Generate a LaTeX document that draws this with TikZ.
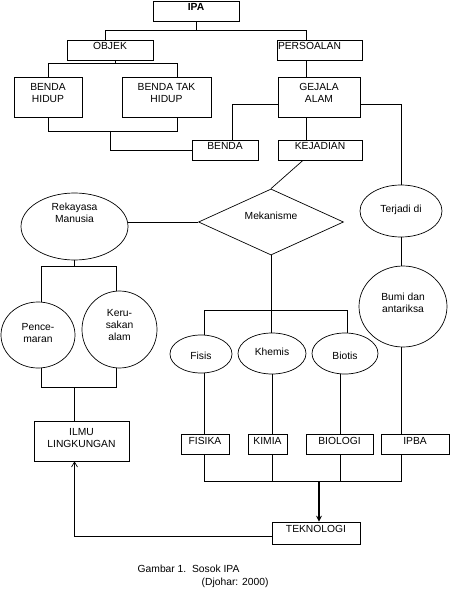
\documentclass[tikz,border=0pt]{standalone}
\usepackage{fontspec}
\setmainfont{Liberation Sans}
\usepackage{tikz}
\usetikzlibrary{shapes.geometric}
\usetikzlibrary{arrows.meta}
\tikzset{
    mybox/.style = {rectangle, draw=black, align=center, inner sep=0pt, text height=10pt, text depth=10pt, minimum height=20pt},
    mybox2/.style = {rectangle, draw=black, align=center, inner sep=0pt, text height=26pt, text depth=14pt, minimum height=40pt},
    myell/.style = {ellipse, draw=black, align=center, inner sep=0pt},
    mydia/.style = {diamond, draw=black, align=center, inner sep=0pt},
}
\begin{document}
\begin{tikzpicture}[
    x=1pt,
    y=-1pt,
    line width=0.7pt,
    font=\fontsize{10.3}{12}\selectfont
  ]
  \useasboundingbox (0,0) rectangle (450,612);
  \node[mybox, minimum width=86pt, font=\fontsize{10.3}{12}\selectfont\bfseries] (ipa) at (196,11) {IPA};
  \node[mybox, minimum width=86pt] (obj) at (110,50) {OBJEK};
  \node[mybox, minimum width=85pt, text width=83pt, align=left, inner xsep=1pt] (per) at (319.5,50) {PERSOALAN};
  \node[mybox2, minimum width=68pt] (bh) at (48,97) {BENDA\\HIDUP};
  \node[mybox2, minimum width=89pt] (bth) at (166.5,97) {BENDA TAK\\HIDUP};
  \node[mybox2, minimum width=82pt] (gej) at (319,97) {GEJALA\\ALAM};
  \node[mybox, minimum width=66pt] (bnd) at (225,150) {BENDA};
  \node[mybox, minimum width=84pt] (kej) at (320,150) {KEJADIAN};
  \node[mydia, minimum width=145pt, minimum height=58pt, text height=4pt, text depth=9.4pt] (mek) at (271,222) {Mekanisme};
  \node[myell, minimum width=107pt, minimum height=67pt, text height=14pt, text depth=21.6pt] (rek) at (74.5,226.5) {Rekayasa\\Manusia};
  \node[myell, minimum width=82pt, minimum height=52pt, text height=6pt, text depth=4pt] (ter) at (401,211) {Terjadi di};
  \node[myell, minimum width=88pt, minimum height=81pt, text height=16pt, text depth=5pt] (bumi) at (403,306.5) {Bumi dan\\antariksa};
  \node[myell, minimum width=74pt, minimum height=66pt, text height=18pt, text depth=4pt] (pen) at (38,335) {Pence-\\maran};
  \node[myell, minimum width=75pt, minimum height=77pt, text height=26pt, text depth=5pt] (rus) at (119.5,329.5) {Keru-\\sakan\\alam};
  \node[myell, minimum width=62pt, minimum height=38pt, text height=12pt, text depth=2pt] (fis) at (201,354) {Fisis};
  \node[myell, minimum width=68pt, minimum height=41pt, text height=8pt, text depth=4pt] (khe) at (272,353.5) {Khemis};
  \node[myell, minimum width=66pt, minimum height=41pt, text height=13pt, text depth=1pt] (bio) at (345,353.5) {Biotis};
  \node[mybox2, minimum width=95pt] (ilmu) at (81.5,441) {ILMU\\LINGKUNGAN};
  \node[mybox, minimum width=48pt] (fisika) at (205,444) {FISIKA};
  \node[mybox, minimum width=39pt] (kimia) at (267.5,444) {KIMIA};
  \node[mybox, minimum width=67pt] (biologi) at (339.5,444) {BIOLOGI};
  \node[mybox, minimum width=68pt] (ipba) at (415,444) {IPBA};
  \node[mybox, minimum width=88pt, minimum height=22pt, text depth=12pt] (tek) at (316,533) {TEKNOLOGI};
  \node[anchor=base west] (cap1) at (134,572) {Gambar 1.\ \ Sosok IPA};
  \node[anchor=base west] (cap2) at (198,585) {(Djohar: 2000)};

  \draw (ipa.south) -- ++(0,9) -| ([xshift=-5pt]obj.north);
  \draw (ipa.south) ++(0,9) -| ([xshift=-13.5pt]per.north);
  \draw ([xshift=5pt]obj.south) -- ++(0,3) coordinate (o1);
  \draw (bh.north) |- (o1) -| ([xshift=10.5pt]bth.north);
  \draw (bh.south) -- ++(0,14) -| ([xshift=10.5pt]bth.south);
  \coordinate (b2) at (110,131);
  \draw (b2) |- (bnd.west);
  \draw ([xshift=-13.5pt]per.south) -- ([xshift=-13.5pt]per.south |- gej.north);
  \draw ([yshift=-7pt]gej.west) -| ([xshift=7pt]bnd.north);
  \draw ([yshift=-7pt]gej.east) -| (ter.north);
  \draw ([xshift=-13pt]gej.south) -- ([xshift=-13pt]gej.south |- kej.north);
  \draw ([xshift=-17pt]kej.south) -- (mek.north);
  \draw (mek.west) -- (mek.west -| rek.east);
  \draw (ter.south) -- (ter.south |- bumi.north);
  \draw (rek.south) -- ++(0,6) coordinate (r1);
  \draw ([xshift=3pt]pen.north) |- (r1) -| ([xshift=-3.5pt]rus.north);
  \draw ([xshift=3pt]pen.south) -- ++(0,19) coordinate (p1) -| ([xshift=-3.5pt]rus.south);
  \draw (rek.south |- p1) -- (rek.south |- ilmu.north);
  \draw (mek.south) -- ++(0,55) coordinate (m1);
  \draw ([xshift=3pt]fis.north) |- (m1) -| ([xshift=2pt]bio.north);
  \draw (m1) -- (m1 |- khe.north);
  \draw ([xshift=3pt]fis.south) -- ([xshift=3pt]fis.south |- fisika.north);
  \draw (khe.south) -- (khe.south |- kimia.north);
  \draw ([xshift=-5pt]bio.south) -- ([xshift=-5pt]bio.south |- biologi.north);
  \draw (ter.south |- bumi.south) -- (ter.south |- ipba.north);
  \draw ([xshift=3pt]fis.south |- fisika.south) -- ++(0,27) coordinate (k1) -| (ter.south |- ipba.south);
  \draw (khe.south |- kimia.south) -- (khe.south |- k1);
  \draw ([xshift=-5pt]bio.south |- biologi.south) -- ([xshift=-5pt]bio.south |- k1);
  \draw[line width=1.8pt, -{Stealth[length=6pt,width=6pt]}] ([xshift=3pt]tek.north |- k1) -- ([xshift=3pt]tek.north);
  \draw[-{Straight Barb[length=5pt,width=6pt]}] ([yshift=-3pt]tek.west) -| (rek.south |- ilmu.south);
\end{tikzpicture}
\end{document}
